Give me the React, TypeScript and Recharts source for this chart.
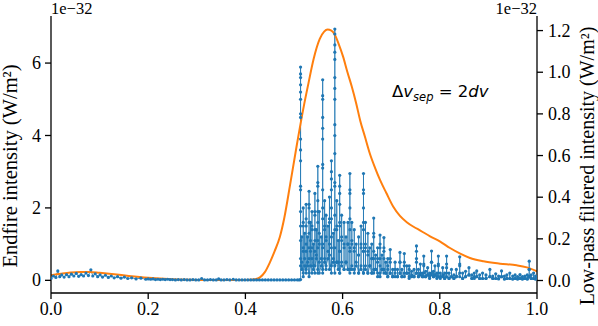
import { ComposedChart, Line, XAxis, YAxis } from 'recharts';

// endfire intensity (units of 1e-32 W/m^2): [x, dots stacked at that x]
const endfireCols: [number, number[]][] = [
  [0.000, [0.05]], [0.005, [0.12]], [0.010, [0.08]], [0.014, [0.26]], [0.018, [0.10]],
  [0.022, [0.15]], [0.027, [0.09]], [0.032, [0.16]], [0.037, [0.10]], [0.042, [0.17]],
  [0.047, [0.12]], [0.052, [0.19]], [0.057, [0.11]], [0.062, [0.16]], [0.067, [0.12]],
  [0.072, [0.20]], [0.077, [0.13]], [0.082, [0.29]], [0.086, [0.12]], [0.091, [0.18]],
  [0.096, [0.10]], [0.101, [0.15]], [0.106, [0.09]], [0.112, [0.14]], [0.118, [0.08]],
  [0.124, [0.12]], [0.130, [0.07]], [0.137, [0.10]], [0.144, [0.06]], [0.151, [0.09]],
  [0.158, [0.05]], [0.166, [0.07]], [0.175, [0.04]], [0.185, [0.06]], [0.195, [0.03]],
  [0.200, [0.04]], [0.205, [0.03]], [0.210, [0.04]], [0.215, [0.02]], [0.220, [0.03]],
  [0.225, [0.02]], [0.230, [0.03]], [0.235, [0.02]], [0.240, [0.03]], [0.245, [0.02]],
  [0.250, [0.02]], [0.256, [0.01]], [0.262, [0.02]], [0.268, [0.01]], [0.274, [0.02]],
  [0.280, [0.01]], [0.286, [0.01]], [0.292, [0.02]], [0.298, [0.01]], [0.304, [0.01]],
  [0.310, [0.05]], [0.316, [0.01]], [0.322, [0.01]], [0.328, [0.02]], [0.334, [0.01]],
  [0.340, [0.01]], [0.345, [0.04]], [0.350, [0.01]], [0.356, [0.01]], [0.362, [0.02]],
  [0.368, [0.01]], [0.375, [0.03]], [0.381, [0.01]], [0.387, [0.01]], [0.393, [0.01]],
  [0.399, [0.01]], [0.405, [0.01]], [0.411, [0.01]], [0.417, [0.01]], [0.423, [0.01]],
  [0.429, [0.01]], [0.435, [0.01]], [0.441, [0.01]], [0.447, [0.01]], [0.453, [0.01]],
  [0.459, [0.01]], [0.465, [0.01]], [0.471, [0.01]], [0.477, [0.01]], [0.483, [0.01]],
  [0.489, [0.01]], [0.495, [0.01]], [0.501, [0.01]], [0.507, [0.01]], [0.511, [0.01]],
  [0.5135, [0.02, 0.4, 1.1, 1.9, 2.6, 3.3, 3.9, 4.5, 5.0, 5.4, 5.7, 5.89, 5.6, 5.2, 4.6, 3.6, 2.5, 1.5, 0.6]],
  [0.516, [0.3, 1.2, 0.5]],
  [0.519, [0.2, 0.9, 1.6, 2.0, 1.5, 0.8, 0.1]],
  [0.522, [0.4, 1.3, 0.6]],
  [0.525, [0.2, 0.8, 1.5, 2.1, 1.7, 1.0, 0.3]],
  [0.528, [0.5, 1.2, 0.4]],
  [0.531, [0.2, 0.9, 1.6, 2.1, 2.46, 2.0, 1.3, 0.6, 0.1]],
  [0.534, [0.4, 1.1, 1.6, 0.8]],
  [0.537, [0.2, 0.9, 1.5, 1.9, 1.4, 0.6]],
  [0.540, [0.3, 1.0, 0.4]],
  [0.543, [0.2, 0.8, 1.4, 1.9, 2.4, 1.8, 1.1, 0.4]],
  [0.546, [0.6, 1.4, 0.7]],
  [0.549, [0.2, 0.9, 1.6, 2.2, 2.7, 3.15, 2.6, 1.9, 1.1, 0.3]],
  [0.552, [0.5, 1.3, 1.9, 1.0, 0.2]],
  [0.556, [0.4, 1.2, 0.6]],
  [0.559, [0.2, 0.9, 1.7, 2.5, 3.2, 3.9, 4.5, 5.0, 5.54, 5.1, 4.2, 3.1, 2.0, 1.0, 0.3]],
  [0.563, [0.5, 1.4, 2.2, 1.5, 0.6]],
  [0.566, [0.3, 1.1, 1.8, 1.2, 0.4]],
  [0.570, [0.6, 1.5, 0.8]],
  [0.573, [0.3, 1.0, 1.7, 2.3, 1.6, 0.7]],
  [0.577, [0.2, 0.9, 1.7, 2.5, 3.0, 3.3, 2.8, 2.0, 1.2, 0.4]],
  [0.581, [0.5, 1.3, 0.6]],
  [0.584, [0.2, 0.9, 1.8, 2.7, 3.5, 4.3, 5.0, 5.6, 6.1, 6.5, 6.8, 6.94, 6.3, 5.3, 4.0, 2.6, 1.4, 0.4]],
  [0.588, [0.5, 1.5, 2.2, 1.4, 0.5]],
  [0.591, [0.3, 1.1, 0.5]],
  [0.594, [0.2, 0.8, 1.5, 2.1, 2.6, 2.9, 2.4, 1.6, 0.8, 0.2]],
  [0.598, [0.5, 1.2, 1.8, 1.1, 0.4]],
  [0.603, [0.3, 0.9, 1.6, 1.0, 0.3]],
  [0.607, [0.5, 1.2, 0.5]],
  [0.611, [0.3, 1.0, 1.6, 1.0, 0.3]],
  [0.615, [0.2, 0.8, 1.4, 2.0, 2.5, 2.95, 2.4, 1.7, 0.9, 0.3]],
  [0.619, [0.4, 1.1, 1.6, 1.0, 0.3]],
  [0.624, [0.3, 0.9, 1.4, 0.8, 0.2]],
  [0.628, [0.4, 1.0, 0.5]],
  [0.633, [0.2, 0.7, 1.2, 0.7, 0.2]],
  [0.638, [0.4, 1.0, 1.5, 0.9, 0.3]],
  [0.643, [0.2, 0.8, 1.4, 2.0, 2.5, 2.95, 2.4, 1.6, 0.8, 0.2]],
  [0.647, [0.4, 1.0, 1.6, 0.9, 0.3]],
  [0.652, [0.2, 0.7, 1.3, 0.8, 0.2]],
  [0.656, [0.4, 0.9, 0.4]],
  [0.660, [0.2, 0.6, 1.0, 0.6, 0.2]],
  [0.664, [0.3, 0.8, 1.3, 1.72, 1.2, 0.6, 0.2]],
  [0.668, [0.3, 0.7, 0.3]],
  [0.672, [0.2, 0.6, 0.9, 0.5, 0.1]],
  [0.677, [0.2, 0.6, 1.0, 1.25, 0.9, 0.4, 0.1]],
  [0.681, [0.3, 0.7, 0.3]],
  [0.685, [0.2, 0.6, 0.9, 1.18, 0.8, 0.3]],
  [0.689, [0.2, 0.5, 0.2]],
  [0.693, [0.1, 0.4, 0.6, 0.3, 0.1]],
  [0.698, [0.2, 0.5, 0.85, 0.6, 0.2]],
  [0.703, [0.1, 0.3, 0.1]],
  [0.708, [0.2, 0.5, 0.3, 0.1]],
  [0.713, [0.1, 0.3, 0.1]],
  [0.718, [0.2, 0.5, 0.77, 0.5, 0.2]],
  [0.722, [0.1, 0.3, 0.1]],
  [0.727, [0.2, 0.5, 0.74, 0.4, 0.1]],
  [0.732, [0.2, 0.4, 0.2]],
  [0.737, [0.1, 0.3, 0.4, 0.2, 0.05]],
  [0.742, [0.15, 0.25, 0.1]],
  [0.747, [0.1, 0.3, 0.1]],
  [0.752, [0.2, 0.5, 0.8, 0.95, 0.6, 0.2]],
  [0.756, [0.1, 0.3, 0.1]],
  [0.760, [0.15, 0.45, 0.2]],
  [0.764, [0.1, 0.2, 0.1]],
  [0.767, [0.2, 0.45, 0.67, 0.4, 0.1]],
  [0.771, [0.1, 0.25, 0.1]],
  [0.775, [0.15, 0.35, 0.15]],
  [0.779, [0.1, 0.2, 0.05]],
  [0.783, [0.2, 0.5, 0.81, 0.5, 0.15]],
  [0.787, [0.1, 0.25, 0.1]],
  [0.790, [0.15, 0.4, 0.15]],
  [0.794, [0.05, 0.2, 0.1]],
  [0.797, [0.2, 0.45, 0.67, 0.4, 0.1]],
  [0.801, [0.1, 0.2, 0.05]],
  [0.806, [0.15, 0.35, 0.1]],
  [0.810, [0.05, 0.2, 0.05]],
  [0.814, [0.2, 0.45, 0.67, 0.35, 0.1]],
  [0.819, [0.05, 0.2, 0.05]],
  [0.824, [0.1, 0.3, 0.1]],
  [0.829, [0.05, 0.15, 0.05]],
  [0.834, [0.1, 0.3, 0.1]],
  [0.841, [0.2, 0.45, 0.65, 0.4, 0.1]],
  [0.847, [0.05, 0.2, 0.05]],
  [0.853, [0.1, 0.25, 0.1]],
  [0.860, [0.15, 0.35, 0.15]],
  [0.866, [0.05, 0.15, 0.05]],
  [0.871, [0.1, 0.2, 0.05]],
  [0.876, [0.1, 0.26, 0.1]],
  [0.882, [0.05, 0.15, 0.05]],
  [0.888, [0.05, 0.2, 0.05]],
  [0.895, [0.05, 0.15, 0.05]],
  [0.903, [0.1, 0.3, 0.1]],
  [0.909, [0.05, 0.12, 0.05]],
  [0.915, [0.05, 0.18, 0.05]],
  [0.921, [0.05, 0.12, 0.04]],
  [0.927, [0.1, 0.26, 0.1]],
  [0.933, [0.04, 0.12, 0.04]],
  [0.938, [0.05, 0.15, 0.05]],
  [0.944, [0.05, 0.2, 0.05]],
  [0.950, [0.04, 0.12, 0.04]],
  [0.955, [0.05, 0.15, 0.05]],
  [0.960, [0.04, 0.1, 0.04]],
  [0.965, [0.05, 0.16, 0.05]],
  [0.970, [0.04, 0.1, 0.04]],
  [0.975, [0.05, 0.12, 0.05]],
  [0.980, [0.04, 0.15, 0.04]],
  [0.984, [0.1, 0.3, 0.53, 0.3, 0.1]],
  [0.988, [0.05, 0.15, 0.05]],
  [0.993, [0.05, 0.2, 0.05]],
  [0.997, [0.04, 0.12, 0.04]],
  [1.000, [0.08]],
];

// low-pass filtered intensity (units of 1e-32 W/m^2)
const lowpassX = [
  0, 0.02, 0.04, 0.06, 0.08, 0.1, 0.13, 0.16, 0.2, 0.25, 0.3, 0.35, 0.4, 0.42, 0.43, 0.44,
  0.45, 0.46, 0.471, 0.48, 0.492, 0.505, 0.52, 0.53, 0.54, 0.553, 0.562, 0.569, 0.577, 0.584,
  0.592, 0.601, 0.61, 0.619, 0.628, 0.636, 0.646, 0.656, 0.667, 0.677, 0.69, 0.704, 0.718,
  0.732, 0.746, 0.76, 0.78, 0.8, 0.821, 0.842, 0.862, 0.89, 0.924, 0.958, 0.979, 1.0,
];
const lowpassY = [
  0.025, 0.032, 0.038, 0.041, 0.041, 0.037, 0.03, 0.022, 0.013, 0.006, 0.003, 0.002, 0.002,
  0.006, 0.015, 0.04, 0.085, 0.14, 0.21, 0.3, 0.46, 0.64, 0.835, 0.95, 1.06, 1.16, 1.195,
  1.205, 1.2, 1.18, 1.135, 1.075, 1.0, 0.93, 0.85, 0.77, 0.69, 0.61, 0.54, 0.483, 0.42,
  0.355, 0.31, 0.28, 0.258, 0.24, 0.212, 0.188, 0.156, 0.129, 0.108, 0.092, 0.081, 0.073,
  0.063, 0.044,
];

const xTicks = [0, 0.2, 0.4, 0.6, 0.8, 1.0];
const leftTicks = [0, 2, 4, 6];
const rightTicks = [0, 0.2, 0.4, 0.6, 0.8, 1.0, 1.2];

const endfire = endfireCols.flatMap(([x, ys]) => ys.map((y) => ({ x, y })));
const lowpass = lowpassX.map((x, i) => ({ x, v: lowpassY[i] }));

const BLUE = '#1f77b4';
const ORANGE = '#ff7f0e';
const serif = '"Liberation Serif", "Times New Roman", serif';
const axisStroke = { stroke: '#000', strokeWidth: 1.3 };

// serif tick labels, drawn by hand so the font sticks
const makeTick = (anchor: 'start' | 'middle' | 'end', dy: string, fmt: (v: number) => string) =>
  (props: any) => (
    <text
      x={props.x}
      y={props.y}
      dy={dy}
      textAnchor={anchor}
      fontSize={18}
      fill="#000"
      style={{ fontFamily: serif }}
    >
      {fmt(props.payload.value)}
    </text>
  );

const oneDec = (v: number) => v.toFixed(1);
const xTick = makeTick('middle', '0.75em', oneDec);
const leftTick = makeTick('end', '0.34em', (v) => String(v));
const rightTick = makeTick('start', '0.34em', oneDec);

export default function App() {
  return (
    <div
      style={{
        position: 'absolute',
        left: 0,
        top: 0,
        width: 598,
        height: 326,
        background: '#fff',
        fontFamily: serif,
      }}
    >
      <ComposedChart width={598} height={326} margin={{ top: 16, right: 0, bottom: 0, left: 0 }}>
        <XAxis
          dataKey="x"
          type="number"
          domain={[0, 1]}
          ticks={xTicks}
          allowDataOverflow
          height={33}
          tickSize={6}
          tickMargin={2}
          tick={xTick}
          axisLine={axisStroke}
          tickLine={axisStroke}
        />
        <XAxis
          xAxisId="top"
          orientation="top"
          type="number"
          domain={[0, 1]}
          height={0}
          tick={false}
          tickLine={false}
          axisLine={axisStroke}
        />
        <YAxis
          yAxisId="l"
          type="number"
          domain={[-0.35, 7.3]}
          ticks={leftTicks}
          allowDataOverflow
          width={51}
          tickSize={6}
          tickMargin={4}
          tick={leftTick}
          axisLine={axisStroke}
          tickLine={axisStroke}
        />
        <YAxis
          yAxisId="r"
          orientation="right"
          type="number"
          domain={[-0.06, 1.27]}
          ticks={rightTicks}
          allowDataOverflow
          width={61}
          tickSize={6}
          tickMargin={5}
          tick={rightTick}
          axisLine={axisStroke}
          tickLine={axisStroke}
        />
        <Line
          yAxisId="l"
          data={endfire}
          dataKey="y"
          type="linear"
          stroke={BLUE}
          strokeWidth={0.8}
          dot={{ r: 1.6, fill: BLUE, stroke: 'none' }}
          activeDot={false}
          isAnimationActive={false}
        />
        <Line
          yAxisId="r"
          data={lowpass}
          dataKey="v"
          type="monotone"
          stroke={ORANGE}
          strokeWidth={2}
          dot={false}
          activeDot={false}
          isAnimationActive={false}
        />
      </ComposedChart>
      <svg
        width={598}
        height={326}
        style={{ position: 'absolute', left: 0, top: 0, pointerEvents: 'none' }}
      >
        <text x={51} y={14} fontSize={16.5} fontFamily={serif}>1e−32</text>
        <text x={537} y={14} fontSize={16.5} fontFamily={serif} textAnchor="end">1e−32</text>
        <text
          x={17}
          y={166}
          fontSize={20.5}
          fontFamily={serif}
          textAnchor="middle"
          transform="rotate(-90 17 166)"
        >
          Endfire intensity (W/m²)
        </text>
        <text
          x={594}
          y={166}
          fontSize={20}
          fontFamily={serif}
          textAnchor="middle"
          transform="rotate(-90 594 166)"
        >
          Low-pass filtered intensity (W/m²)
        </text>
        <text x={392} y={97} fontSize={16.5} fontFamily='"DejaVu Sans", sans-serif'>
          Δ<tspan fontStyle="italic">v</tspan>
          <tspan fontStyle="italic" fontSize={11.5} dy={4}>sep</tspan>
          <tspan dy={-4}> = 2</tspan>
          <tspan fontStyle="italic">dv</tspan>
        </text>
      </svg>
    </div>
  );
}
